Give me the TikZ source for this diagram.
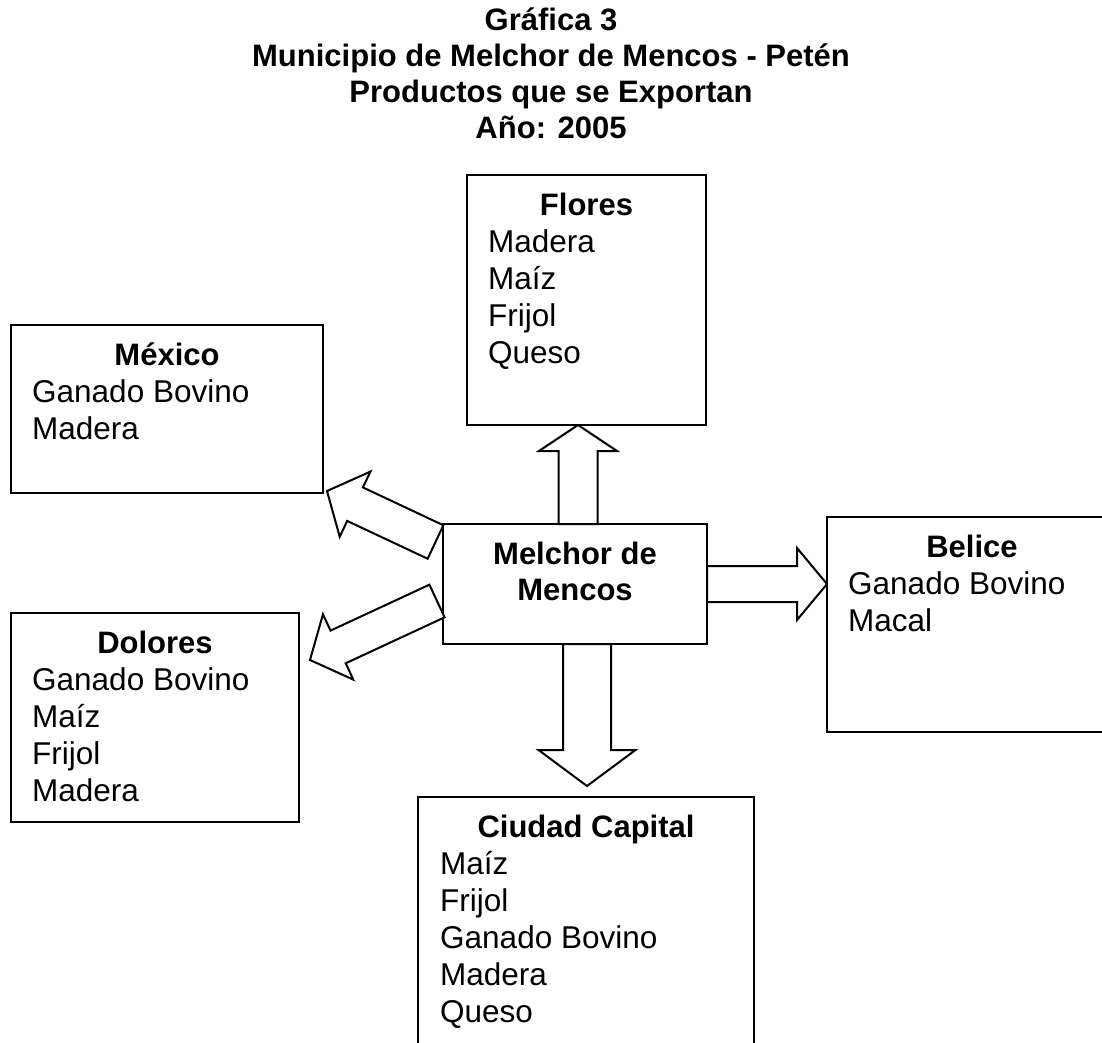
\documentclass[tikz,border=0pt]{standalone}
\usepackage{fontspec}
\setmainfont{Liberation Sans}
\usetikzlibrary{calc}
\tikzset{
  caja/.style={draw, line width=2.5pt, rectangle, inner sep=0pt, outer sep=0pt, anchor=north west},
  cabeza/.style={anchor=base, inner sep=0pt, font=\fontsize{31}{37}\selectfont\bfseries},
  lista/.style={anchor=north west, inner sep=0pt, align=left},
  flecha/.style={draw, line width=2pt, line join=miter, fill=white},
}
\newcommand{\primera}{\rule{0pt}{30pt}}
\newcommand{\flechagrande}[5]{%
  \draw[flecha] ($(#1)!#3!90:(#2)$)
    -- ($(#2)!#5!(#1)!#3!-90:(#1)$) -- ($(#2)!#5!(#1)!#4!-90:(#1)$)
    -- (#2)
    -- ($(#2)!#5!(#1)!#4!90:(#1)$) -- ($(#2)!#5!(#1)!#3!90:(#1)$)
    -- ($(#1)!#3!-90:(#2)$) -- cycle;}
\begin{document}
\begin{tikzpicture}[x=1pt, y=-1pt, font=\fontsize{31.5}{37}\selectfont]
      \clip (0,0) rectangle (1102,1043);
      \fill[white] (0,0) rectangle (1102,1043);
      \node[anchor=north, inner sep=0pt, align=center, font=\fontsize{31}{36}\selectfont\bfseries] (titulo) at (551,0)
        {\primera Gráfica 3\\Municipio de Melchor de Mencos - Petén\\Productos que se Exportan\\Año: 2005};
      \node[caja, minimum width=239pt, minimum height=250pt] (flores) at (467,175) {};
      \node[caja, minimum width=312pt, minimum height=168pt] (mexico) at (11,325) {};
      \node[caja, minimum width=264pt, minimum height=120pt] (melchor) at (443,524) {};
      \node[caja, minimum width=290pt, minimum height=215pt] (belice) at (827,517) {};
      \node[caja, minimum width=288pt, minimum height=209pt] (dolores) at (11,613) {};
      \node[caja, minimum width=336pt, minimum height=270pt] (ciudad) at (418,797) {};
      \node[cabeza] (florest) at ($(flores.north)+(0,40)$) {Flores};
      \node[lista] (floresl) at ($(flores.north west)+(21,47)$) {\primera Madera\\Maíz\\Frijol\\Queso};
      \node[cabeza] (mexicot) at ($(mexico.north)+(0,40)$) {México};
      \node[lista] (mexicol) at ($(mexico.north west)+(21,47)$) {\primera Ganado Bovino\\Madera};
      \node[anchor=north, inner sep=0pt, align=center, font=\fontsize{31}{36}\selectfont\bfseries] (melchort)
        at ($(melchor.north)+(0,10)$) {\primera Melchor de\\Mencos};
      \node[cabeza] (belicet) at ($(belice.north)+(0,40)$) {Belice};
      \node[lista] (belicel) at ($(belice.north west)+(21,47)$) {\primera Ganado Bovino\\Macal};
      \node[cabeza] (dolorest) at ($(dolores.north)+(0,40)$) {Dolores};
      \node[lista] (doloresl) at ($(dolores.north west)+(21,47)$) {\primera Ganado Bovino\\Maíz\\Frijol\\Madera};
      \node[cabeza] (ciudadt) at ($(ciudad.north)+(0,40)$) {Ciudad Capital};
      \node[lista] (ciudadl) at ($(ciudad.north west)+(22,47)$) {\primera Maíz\\Frijol\\Ganado Bovino\\Madera\\Queso};
      \coordinate (arriba0) at ($(melchor.north west)+(135,0)$);
      \coordinate (arriba1) at (arriba0 |- flores.south);
      \coordinate (der0) at ($(melchor.north east)+(0,60)$);
      \coordinate (der1) at (der0 -| belice.west);
      \coordinate (abajo0) at ($(melchor.south west)+(144,0)$);
      \coordinate (abajo1) at ($(ciudad.north west)+(169,-11)$);
      \coordinate (mex0) at ($(melchor.north west)+(-7.5,18)$);
      \coordinate (mex1) at ($(mexico.south east)+(4,-2)$);
      \coordinate (dol0) at ($(melchor.north west)+(-6,77)$);
      \coordinate (dol1) at ($(dolores.north east)+(11,47)$);
      \flechagrande{arriba0}{arriba1}{19.5pt}{39pt}{26pt}
      \flechagrande{der0}{der1}{18pt}{36pt}{30pt}
      \flechagrande{abajo0}{abajo1}{24pt}{48.5pt}{36pt}
      \flechagrande{mex0}{mex1}{18.5pt}{36pt}{31pt}
      \flechagrande{dol0}{dol1}{18pt}{36pt}{31pt}
    \end{tikzpicture}
\end{document}
